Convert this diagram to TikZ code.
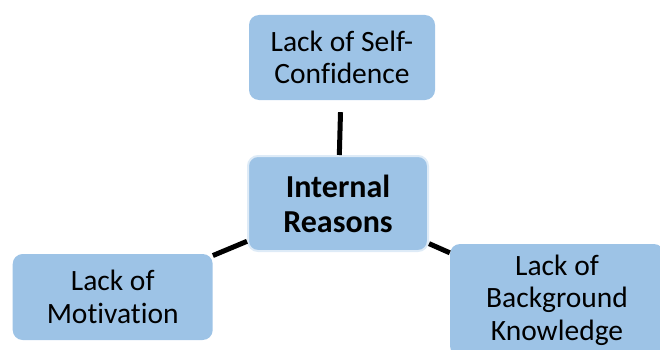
\documentclass[tikz,border=0pt]{standalone}
\usepackage{fontspec}
\setmainfont[Ligatures=NoCommon]{Carlito}
\definecolor{boxblue}{HTML}{9DC3E6}
\definecolor{rimblue}{HTML}{DEEBF7}
\begin{document}
\begin{tikzpicture}[x=1pt, y=1pt,
		reasonbox/.style={fill=boxblue, rounded corners=10pt, inner sep=0pt, align=center,
			font=\fontsize{29.5}{32.5}\selectfont},
		link/.style={line width=5pt}]
		\useasboundingbox (0,0) rectangle (660,349);

		\node[reasonbox, minimum width=186pt, minimum height=85pt] (self) at (342,291.5) {Lack of Self-\\Confidence};
		\node[reasonbox, minimum width=180pt, minimum height=95pt, draw=rimblue, line width=2pt,
			font=\fontsize{32}{35}\selectfont\bfseries] (internal) at (338,145.5) {Internal\\Reasons};
		\node[reasonbox, minimum width=200pt, minimum height=86pt] (motiv) at (112.7,52) {Lack of\\Motivation};
		\node[reasonbox, minimum width=214pt, minimum height=112pt] (backgr) at (557,49) {Lack of\\Background\\Knowledge};

		\draw[link, shorten >=12pt] (internal) -- (self);
		\draw[link] (internal) -- (motiv);
		\draw[link] (internal) -- (backgr);
	\end{tikzpicture}
\end{document}
